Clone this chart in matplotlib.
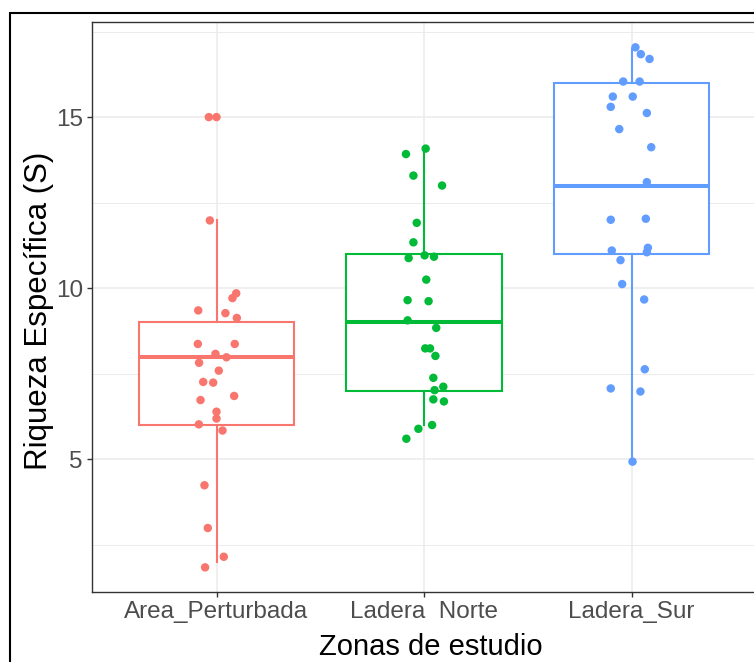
import numpy as np
import matplotlib
matplotlib.use("Agg")
import matplotlib.pyplot as plt
from matplotlib.patches import Rectangle

plt.rcParams["font.family"] = ["Liberation Sans", "DejaVu Sans"]

RED, GREEN, BLUE = "#F8766D", "#00BA38", "#619CFF"

zonas = ["Area_Perturbada", "Ladera  Norte", "Ladera_Sur"]
colores = [RED, GREEN, BLUE]

# box stats: (whisker low, q1, median, q3, whisker high)
caja_area = [2, 6, 8, 9, 12]
caja_norte = [6, 7, 9, 11, 14]
caja_sur = [5, 11, 13, 16, 17]

# jittered points: horizontal offset from category centre, value
dx_area = [-0.037, 0.0, -0.032, 0.095, 0.077, -0.088, 0.043, 0.098, -0.090, 0.088,
           -0.005, 0.048, -0.084, 0.011, -0.064, -0.016, 0.085, -0.077, 0.0, 0.0,
           -0.085, 0.029, -0.058, -0.042, 0.035, -0.055]
y_area = [15.0, 15.0, 11.98, 9.85, 9.71, 9.35, 9.27, 9.13, 8.37, 8.37,
          8.08, 7.98, 7.82, 7.59, 7.26, 7.24, 6.85, 6.73, 6.39, 6.19,
          6.02, 5.84, 4.24, 2.99, 2.15, 1.84]

dx_norte = [0.008, -0.087, -0.051, 0.087, -0.035, -0.051, 0.003, 0.048, -0.074, 0.011,
            -0.079, 0.022, -0.079, 0.059, 0.006, 0.029, 0.055, 0.045, 0.093, 0.051,
            0.045, 0.096, 0.039, -0.027, -0.085]
y_norte = [14.08, 13.92, 13.29, 13.0, 11.91, 11.34, 10.96, 10.92, 10.88, 10.25,
           9.65, 9.62, 9.06, 8.84, 8.24, 8.24, 8.02, 7.38, 7.12, 7.02,
           6.75, 6.69, 6.0, 5.89, 5.60]

dx_sur = [0.019, 0.045, 0.087, -0.040, 0.039, -0.090, 0.006, -0.100, 0.074, -0.059,
          0.095, 0.074, -0.100, 0.069, -0.095, 0.079, 0.074, -0.053, -0.045, 0.061,
          0.064, -0.100, 0.043, 0.005]
y_sur = [17.04, 16.84, 16.70, 16.04, 16.04, 15.60, 15.60, 15.30, 15.12, 14.65,
         14.12, 13.10, 12.0, 12.03, 11.10, 11.18, 11.05, 10.82, 10.12, 9.67,
         7.63, 7.07, 6.98, 4.93]

cajas = [caja_area, caja_norte, caja_sur]
puntos = [(dx_area, y_area), (dx_norte, y_norte), (dx_sur, y_sur)]

fig = plt.figure(figsize=(7.54, 6.62), dpi=100)
ax = fig.add_axes([92 / 754, 1 - 592 / 662, 664 / 754, 570 / 662])

# grid like theme_bw
for v in [2.5, 7.5, 12.5, 17.5]:
    ax.axhline(v, color="#EBEBEB", lw=0.7, zorder=0)
for v in [5, 10, 15]:
    ax.axhline(v, color="#EBEBEB", lw=1.1, zorder=0)
for i in range(len(zonas)):
    ax.axvline(i + 1, color="#EBEBEB", lw=1.1, zorder=0)

for i, (c, col) in enumerate(zip(cajas, colores)):
    st = [dict(whislo=c[0], q1=c[1], med=c[2], q3=c[3], whishi=c[4], fliers=[])]
    ax.bxp(st, positions=[i + 1], widths=0.75, showfliers=False, showcaps=False,
           patch_artist=True,
           boxprops=dict(facecolor="white", edgecolor=col, lw=1.5),
           whiskerprops=dict(color=col, lw=1.5),
           medianprops=dict(color=col, lw=2.9, solid_capstyle="butt"),
           zorder=2)
    dx, yy = puntos[i]
    ax.scatter(i + 1 + np.array(dx), yy, s=37, color=col, edgecolors="none", zorder=3)

ax.set_xlim(0.4, 3.6)
ax.set_ylim(1.12, 17.78)
ax.set_xticks([1, 2, 3])
ax.set_xticklabels(zonas)
ax.set_yticks([5, 10, 15])
ax.tick_params(colors="#333333", length=3.5, width=1.0, labelsize=17.5,
               labelcolor="#4D4D4D", pad=3)
for s in ax.spines.values():
    s.set_color("#333333")
    s.set_linewidth(1.0)

# axis titles placed where the reference has them
fig.text(431 / 754, 1 - 655 / 662, "Zonas de estudio", fontsize=21,
         ha="center", va="baseline")
fig.text(47 / 754, 1 - 311 / 662, "Riqueza Específica (S)", fontsize=22.5,
         rotation=90, rotation_mode="anchor", ha="center", va="baseline")

# outer frame around the exported image
fig.patches.append(Rectangle((10 / 754, -0.1), 1.2, 1 - 12.7 / 662 + 0.1,
                             transform=fig.transFigure, fill=False,
                             edgecolor="black", lw=1.5))

fig.savefig("out.png", dpi=100)
